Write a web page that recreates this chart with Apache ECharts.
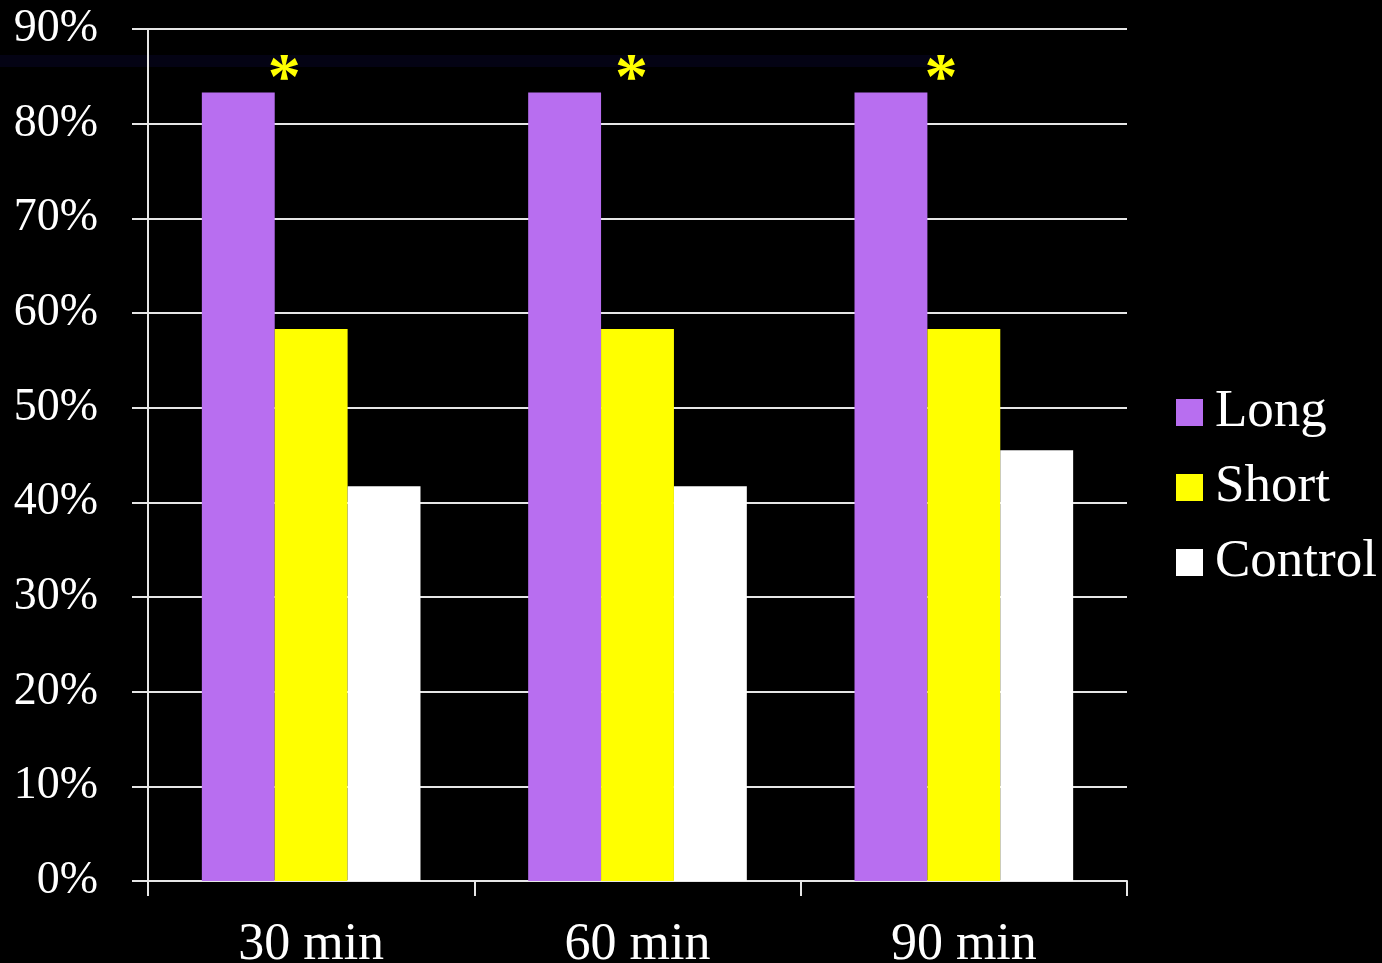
<!DOCTYPE html>
<html>
<head>
<meta charset="utf-8">
<style>
  html, body { margin: 0; padding: 0; background: #000; }
  #chart { width: 1382px; height: 963px; }
</style>
<script src="https://cdn.jsdelivr.net/npm/echarts@6/dist/echarts.min.js"></script>
</head>
<body>
<div id="chart"></div>
<script>
// Time points after the session
const categories = ['30 min', '60 min', '90 min'];
// Share of subjects (%) per group
const longValues = [83.3, 83.3, 83.3];
const shortValues = [58.3, 58.3, 58.3];
const controlValues = [41.7, 41.7, 45.5];
// Significance marks drawn above the Long bars
const significance = ['*', '*', '*'];

const FONT = '"Liberation Serif", "Times New Roman", serif';
const LINE = '#e6e6e6';
// horizontal nudge of each significance mark from its bar's centre (px)
const markShift = [46, 67, 50];

const chart = echarts.init(document.getElementById('chart'), null, { renderer: 'canvas' });

chart.setOption({
  backgroundColor: '#000000',
  animation: false,
  graphic: [{
    type: 'rect',
    z: -1,
    shape: { x: 0, y: 55, width: 938, height: 12 },
    style: { fill: '#040314' },
    silent: true
  }],
  grid: { left: 148, right: 255, top: 29, bottom: 82, outerBoundsMode: 'none', containLabel: false },
  legend: {
    orient: 'vertical',
    left: 1176,
    top: 386,
    padding: 0,
    itemWidth: 27,
    itemHeight: 27,
    itemGap: 22,
    icon: 'rect',
    textStyle: { color: '#ffffff', fontFamily: FONT, fontSize: 53, lineHeight: 53, padding: [0, 0, 0, 7] },
    data: ['Long', 'Short', 'Control']
  },
  xAxis: {
    type: 'category',
    data: categories,
    axisLine: { show: true, lineStyle: { color: LINE, width: 2 } },
    axisTick: { show: true, length: 15, lineStyle: { color: LINE, width: 2 } },
    axisLabel: { color: '#ffffff', fontFamily: FONT, fontSize: 52, margin: 38 }
  },
  yAxis: {
    type: 'value',
    min: 0,
    max: 90,
    interval: 10,
    axisLine: { show: true, lineStyle: { color: LINE, width: 2 } },
    axisTick: { show: true, length: 16, lineStyle: { color: LINE, width: 2 } },
    splitLine: { show: true, lineStyle: { color: LINE, width: 2 } },
    axisLabel: { color: '#ffffff', fontFamily: FONT, fontSize: 46, margin: 50, formatter: '{value}%' }
  },
  series: [
    {
      name: 'Long',
      type: 'bar',
      data: longValues.map((v, i) => ({ value: v, label: { offset: [markShift[i], 27] } })),
      barGap: '0%',
      barCategoryGap: '33%',
      itemStyle: { color: '#b86ef0' },
      label: {
        show: true,
        position: 'top',
        formatter: (p) => significance[p.dataIndex],
        color: '#ffff00',
        fontFamily: FONT,
        fontWeight: 'bold',
        fontSize: 66
      }
    },
    {
      name: 'Short',
      type: 'bar',
      data: shortValues,
      itemStyle: { color: '#ffff00' }
    },
    {
      name: 'Control',
      type: 'bar',
      data: controlValues,
      itemStyle: { color: '#ffffff' }
    }
  ]
});
</script>
</body>
</html>
